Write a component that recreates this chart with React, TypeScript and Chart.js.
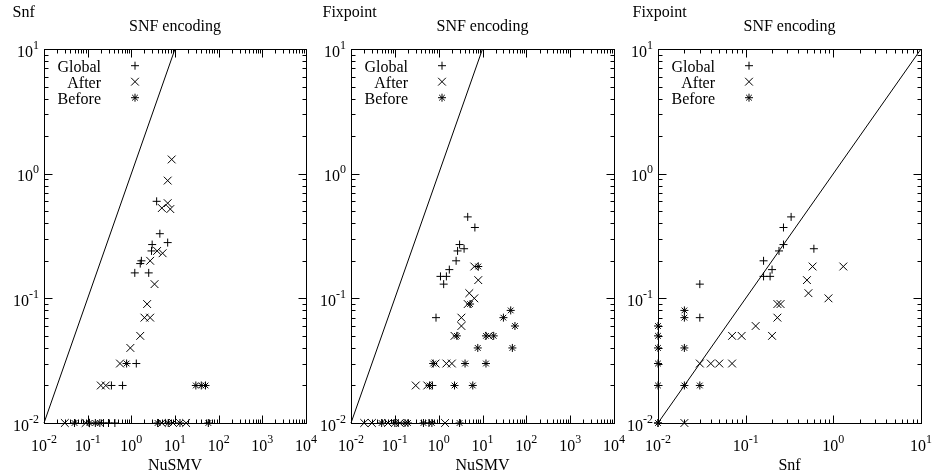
import React, { useEffect, useRef } from "react";
import { Chart, registerables } from "chart.js";
Chart.register(...registerables);

const FONT = '"Liberation Serif", "Times New Roman", serif';

// ---- Panel 1: NuSMV (x) vs Snf (y) ----
const p1GlobalX = [3.8, 4.5, 6.8, 3.0, 2.9, 1.7, 1.6, 1.2, 2.5, 1.3, 0.35, 0.63, 0.23, 0.3, 0.42];
const p1GlobalY = [0.6, 0.33, 0.28, 0.27, 0.24, 0.2, 0.19, 0.16, 0.16, 0.03, 0.02, 0.02, 0.01, 0.01, 0.01];
const p1AfterX = [8.4, 6.8, 6.8, 5.0, 7.8, 3.9, 5.2, 2.7, 3.4, 2.3, 2.0, 2.7, 1.6, 0.95, 0.55, 0.2, 0.26, 0.03, 0.09, 5, 9, 18];
const p1AfterY = [1.3, 0.88, 0.58, 0.53, 0.52, 0.24, 0.23, 0.2, 0.13, 0.09, 0.07, 0.07, 0.05, 0.04, 0.03, 0.02, 0.02, 0.01, 0.01, 0.01, 0.01, 0.01];
const p1BeforeX = [30, 40, 50, 0.78, 0.05, 0.11, 0.15, 0.19, 4, 7, 13, 58];
const p1BeforeY = [0.02, 0.02, 0.02, 0.03, 0.01, 0.01, 0.01, 0.01, 0.01, 0.01, 0.01, 0.01];

// ---- Panel 2: NuSMV (x) vs Fixpoint (y) ----
const p2GlobalX = [4.6, 6.7, 3.0, 3.8, 2.7, 2.5, 1.75, 1.5, 1.1, 1.3, 0.87, 0.72, 0.12, 0.6];
const p2GlobalY = [0.45, 0.37, 0.27, 0.25, 0.24, 0.2, 0.17, 0.15, 0.15, 0.13, 0.07, 0.02, 0.01, 0.01];
const p2AfterX = [6.5, 8, 5, 6.5, 4.6, 3.3, 3.3, 2.3, 14, 0.85, 1.5, 2, 0.3, 0.55, 0.02, 0.03, 0.07, 0.13, 1.4];
const p2AfterY = [0.18, 0.14, 0.11, 0.1, 0.09, 0.07, 0.06, 0.05, 0.05, 0.03, 0.03, 0.03, 0.02, 0.02, 0.01, 0.01, 0.01, 0.01, 0.01];
const p2BeforeX = [8, 5.2, 2.6, 30, 44, 55, 12, 18, 7.8, 48, 0.75, 4, 12, 0.62, 2.3, 6, 0.05, 0.1, 0.17, 0.2, 0.45, 0.7, 3];
const p2BeforeY = [0.18, 0.09, 0.05, 0.07, 0.08, 0.06, 0.05, 0.05, 0.04, 0.04, 0.03, 0.03, 0.03, 0.02, 0.02, 0.02, 0.01, 0.01, 0.01, 0.01, 0.01, 0.01, 0.01];

// ---- Panel 3: Snf (x) vs Fixpoint (y) ----
const p3GlobalX = [0.33, 0.27, 0.27, 0.24, 0.6, 0.16, 0.2, 0.16, 0.19, 0.03, 0.03, 0.01];
const p3GlobalY = [0.45, 0.37, 0.27, 0.24, 0.25, 0.2, 0.17, 0.15, 0.15, 0.13, 0.07, 0.01];
const p3AfterX = [0.58, 1.3, 0.5, 0.52, 0.88, 0.23, 0.25, 0.23, 0.13, 0.07, 0.09, 0.2, 0.03, 0.04, 0.05, 0.07, 0.02];
const p3AfterY = [0.18, 0.18, 0.14, 0.11, 0.1, 0.09, 0.09, 0.07, 0.06, 0.05, 0.05, 0.05, 0.03, 0.03, 0.03, 0.03, 0.01];
const p3BeforeX = [0.01, 0.01, 0.01, 0.01, 0.01, 0.01, 0.02, 0.02, 0.02, 0.02, 0.03];
const p3BeforeY = [0.06, 0.05, 0.04, 0.03, 0.02, 0.01, 0.08, 0.07, 0.04, 0.02, 0.02];

const diagonal = [0.01, 10];
const seriesLabels = ["Global", "After", "Before"];
const seriesStyles = ["cross", "crossRot", "star"];
const seriesRadius = [4, 5.5, 4];

type PanelCfg = {
  left: number;
  width: number;
  padLeft: number;
  padRight: number;
  xMinExp: number;
  xMaxExp: number;
  yTitle: string;
  xTitle: string;
  xs: number[][];
  ys: number[][];
};

const PANELS: PanelCfg[] = [
  { left: 0, width: 320, padLeft: 44, padRight: 14, xMinExp: -2, xMaxExp: 4, yTitle: "Snf", xTitle: "NuSMV",
    xs: [p1GlobalX, p1AfterX, p1BeforeX], ys: [p1GlobalY, p1AfterY, p1BeforeY] },
  { left: 310, width: 320, padLeft: 41, padRight: 16, xMinExp: -2, xMaxExp: 4, yTitle: "Fixpoint", xTitle: "NuSMV",
    xs: [p2GlobalX, p2AfterX, p2BeforeX], ys: [p2GlobalY, p2AfterY, p2BeforeY] },
  { left: 620, width: 312, padLeft: 38, padRight: 11, xMinExp: -2, xMaxExp: 1, yTitle: "Fixpoint", xTitle: "Snf",
    xs: [p3GlobalX, p3AfterX, p3BeforeX], ys: [p3GlobalY, p3AfterY, p3BeforeY] },
];
const Y_MIN_EXP = -2;
const Y_MAX_EXP = 1;
const TITLE = "SNF encoding";

function drawMarker(ctx: CanvasRenderingContext2D, style: string, x: number, y: number, r: number) {
  ctx.beginPath();
  if (style === "cross" || style === "star") {
    ctx.moveTo(x - r, y); ctx.lineTo(x + r, y);
    ctx.moveTo(x, y - r); ctx.lineTo(x, y + r);
  }
  if (style === "crossRot" || style === "star") {
    const d = r * 0.7071;
    ctx.moveTo(x - d, y - d); ctx.lineTo(x + d, y + d);
    ctx.moveTo(x - d, y + d); ctx.lineTo(x + d, y - d);
  }
  ctx.stroke();
}

function drawPow(ctx: CanvasRenderingContext2D, exp: number, x: number, baseline: number, align: "center" | "right") {
  const base = "10";
  const sup = exp < 0 ? "-" + String(-exp) : String(exp);
  ctx.font = `16px ${FONT}`;
  const bw = ctx.measureText(base).width;
  ctx.font = `12px ${FONT}`;
  const sw = ctx.measureText(sup).width;
  const total = bw + sw;
  const sx = align === "center" ? x - total / 2 : x - total;
  ctx.textAlign = "left";
  ctx.textBaseline = "alphabetic";
  ctx.font = `16px ${FONT}`;
  ctx.fillText(base, sx, baseline);
  ctx.font = `12px ${FONT}`;
  ctx.fillText(sup, sx + bw, baseline - 8);
}

function makePlugin(cfg: PanelCfg) {
  return {
    id: "gnuframe",
    afterDraw(chart: any) {
      const ctx: CanvasRenderingContext2D = chart.ctx;
      const a = chart.chartArea;
      const xs = chart.scales.x;
      const ys = chart.scales.y;
      const L = Math.round(a.left) + 0.5, R = Math.round(a.right) + 0.5;
      const T = Math.round(a.top) + 0.5, B = Math.round(a.bottom) + 0.5;
      ctx.save();
      ctx.strokeStyle = "#000";
      ctx.fillStyle = "#000";
      ctx.lineWidth = 1;
      ctx.strokeRect(L, T, R - L, B - T);
      const MAJ = 8, MIN = 4;
      ctx.beginPath();
      for (let e = cfg.xMinExp; e <= cfg.xMaxExp; e++) {
        const px = Math.round(xs.getPixelForValue(Math.pow(10, e))) + 0.5;
        ctx.moveTo(px, B); ctx.lineTo(px, B - MAJ);
        ctx.moveTo(px, T); ctx.lineTo(px, T + MAJ);
        if (e < cfg.xMaxExp) {
          for (let k = 2; k <= 9; k++) {
            const mx = Math.round(xs.getPixelForValue(k * Math.pow(10, e))) + 0.5;
            ctx.moveTo(mx, B); ctx.lineTo(mx, B - MIN);
            ctx.moveTo(mx, T); ctx.lineTo(mx, T + MIN);
          }
        }
      }
      for (let e = Y_MIN_EXP; e <= Y_MAX_EXP; e++) {
        const py = Math.round(ys.getPixelForValue(Math.pow(10, e))) + 0.5;
        ctx.moveTo(L, py); ctx.lineTo(L + MAJ, py);
        ctx.moveTo(R, py); ctx.lineTo(R - MAJ, py);
        if (e < Y_MAX_EXP) {
          for (let k = 2; k <= 9; k++) {
            const my = Math.round(ys.getPixelForValue(k * Math.pow(10, e))) + 0.5;
            ctx.moveTo(L, my); ctx.lineTo(L + MIN, my);
            ctx.moveTo(R, my); ctx.lineTo(R - MIN, my);
          }
        }
      }
      ctx.stroke();

      // tick labels
      for (let e = cfg.xMinExp; e <= cfg.xMaxExp; e++) {
        const px = xs.getPixelForValue(Math.pow(10, e));
        drawPow(ctx, e, px, a.bottom + 28, "center");
      }
      for (let e = Y_MIN_EXP; e <= Y_MAX_EXP; e++) {
        const py = ys.getPixelForValue(Math.pow(10, e));
        drawPow(ctx, e, a.left - 5, py + 7.5, "right");
      }

      // titles
      ctx.font = `16px ${FONT}`;
      ctx.textBaseline = "alphabetic";
      ctx.textAlign = "center";
      const cx = (a.left + a.right) / 2;
      ctx.fillText(TITLE, cx, 31);
      ctx.fillText(cfg.xTitle, cx, 470);
      ctx.textAlign = "left";
      ctx.fillText(cfg.yTitle, 12.5, 17);

      // legend
      for (let i = 0; i < seriesLabels.length; i++) {
        ctx.textAlign = "right";
        ctx.fillText(seriesLabels[i], a.left + 57, a.top + 22.5 + i * 16);
        drawMarker(ctx, seriesStyles[i], a.left + 91, a.top + 16.7 + i * 16, seriesRadius[i]);
      }
      ctx.restore();
    },
  };
}

function Panel({ cfg }: { cfg: PanelCfg }) {
  const ref = useRef<HTMLCanvasElement | null>(null);
  useEffect(() => {
    if (!ref.current) return;
    const datasets: any[] = cfg.xs.map((xArr, i) => ({
      label: seriesLabels[i],
      data: xArr.map((x, j) => ({ x, y: cfg.ys[i][j] })),
      pointStyle: seriesStyles[i],
      pointRadius: seriesRadius[i],
      pointBorderWidth: 1,
      borderColor: "#000",
      backgroundColor: "rgba(0,0,0,0)",
      showLine: false,
      clip: false,
    }));
    datasets.push({
      label: "diag",
      data: diagonal.map((v) => ({ x: v, y: v })),
      showLine: true,
      borderColor: "#000",
      borderWidth: 1,
      pointRadius: 0,
      clip: false,
    });
    const chart = new Chart(ref.current, {
      type: "scatter",
      data: { datasets },
      options: {
        animation: false,
        responsive: false,
        devicePixelRatio: 1,
        layout: { padding: { left: cfg.padLeft, right: cfg.padRight, top: 49, bottom: 51 } },
        plugins: { legend: { display: false }, tooltip: { enabled: false }, title: { display: false } },
        scales: {
          x: { type: "logarithmic", min: Math.pow(10, cfg.xMinExp), max: Math.pow(10, cfg.xMaxExp), display: false },
          y: { type: "logarithmic", min: Math.pow(10, Y_MIN_EXP), max: Math.pow(10, Y_MAX_EXP), display: false },
        },
      } as any,
      plugins: [makePlugin(cfg)],
    });
    return () => chart.destroy();
  }, [cfg]);
  return (
    <canvas
      ref={ref}
      width={cfg.width}
      height={474}
      style={{ position: "absolute", left: cfg.left, top: 0, width: cfg.width, height: 474 }}
    />
  );
}

export default function App() {
  return (
    <div style={{ position: "absolute", left: 0, top: 0, width: 932, height: 474, background: "#fff", overflow: "hidden" }}>
      {PANELS.map((p, i) => (
        <Panel key={i} cfg={p} />
      ))}
    </div>
  );
}
